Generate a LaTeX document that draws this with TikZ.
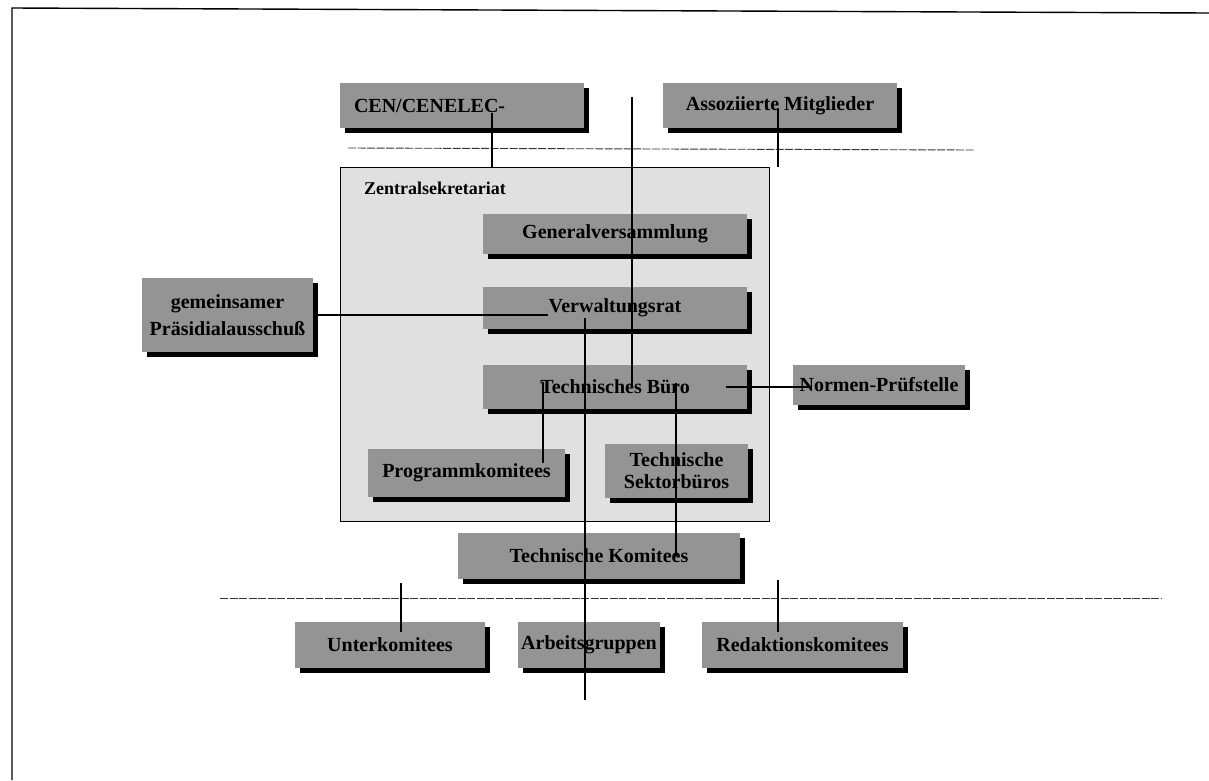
\documentclass[tikz,border=0pt]{standalone}
\usepackage{fontspec}
\setmainfont{Liberation Serif}
\usetikzlibrary{shadows}
\begin{document}
\begin{tikzpicture}[x=1pt,y=-1pt,
  box/.style={fill=black!42, draw=none, font=\bfseries\fontsize{20}{22}\selectfont,
    align=center, inner sep=0pt,
    drop shadow={shadow xshift=5pt, shadow yshift=-5pt, fill=black, opacity=1}},
  conn/.style={line width=1.1pt, black},
  sep/.style={line width=0.9pt, black!80, dash pattern=on 8pt off 1.5pt}]
\useasboundingbox (0,0) rectangle (1209,780);
\draw[line width=1.4pt] (12,780) -- (12,8) -- (1209,13);

% Zentralsekretariat area
\node[draw=black, line width=0.6pt, fill=black!12, minimum width=429pt,
  minimum height=354pt, inner sep=0pt] (zs) at (554.5,344) {};
\node[anchor=west, font=\bfseries\fontsize{18}{20}\selectfont, inner sep=0pt]
  (zslabel) at (364,188) {Zentralsekretariat};

% boxes
\node[box, minimum width=244pt, minimum height=45pt, text width=216pt,
  align=left, inner xsep=14pt] (cen) at (462,105.5) {CEN/CENELEC-};
\node[box, minimum width=234pt, minimum height=45pt] (asso) at (780,105.5) {Assoziierte Mitglieder};
\node[box, minimum width=264pt, minimum height=40pt] (gv) at (615,234) {Generalversammlung};
\node[box, minimum width=264pt, minimum height=42pt] (vr) at (615,308) {Verwaltungsrat};
\node[box, minimum width=171pt, minimum height=74pt] (gem) at (227.5,315)
  {gemeinsamer\\[5pt]Präsidialausschuß};
\node[box, minimum width=264pt, minimum height=44pt] (tb) at (615,387) {Technisches Büro};
\node[box, minimum width=172pt, minimum height=40pt] (np) at (879,385) {Normen-Prüfstelle};
\node[box, minimum width=197pt, minimum height=48pt] (pk) at (466.5,473) {Programmkomitees};
\node[box, minimum width=143pt, minimum height=54pt] (tsb) at (676.5,471)
  {Technische\\Sektorbüros};
\node[box, minimum width=282pt, minimum height=46pt] (tk) at (599,556) {Technische Komitees};
\node[box, minimum width=190pt, minimum height=46pt] (uk) at (390,645) {Unterkomitees};
\node[box, minimum width=142pt, minimum height=46pt] (ag) at (589,645) {Arbeitsgruppen};
\node[box, minimum width=201pt, minimum height=46pt] (rk) at (802.5,645) {Redaktionskomitees};

% separators
\coordinate (sepAl) at (348,148);
\coordinate (sepAr) at (975,150);
\draw[sep] (sepAl) -- (sepAr);
\coordinate (sepBl) at (220,598);
\coordinate (sepBr) at (1162,598);
\draw[sep] (sepBl) -- (sepBr);

% connectors
\coordinate (cenlink) at (492,113);
\draw[conn] (cenlink) -- (cenlink |- zs.north);
\coordinate (mainTop) at (632,97);
\draw[conn] (mainTop) -- (mainTop |- tb.center);
\coordinate (assolink) at (778,108);
\draw[conn] (assolink) -- (assolink |- zs.north);
\coordinate (vrin) at (548,313);
\draw[conn] (gem.east) -- (gem.east -| vrin);
\coordinate (vrdown) at (585,318);
\coordinate (agend) at (585,700);
\draw[conn] (vrdown) -- (agend);
\coordinate (tbpk) at (543,382);
\coordinate (pkin) at (543,463);
\draw[conn] (tbpk) -- (pkin);
\coordinate (tbtk) at (676,383);
\draw[conn] (tbtk) -- (tbtk |- tk.center);
\coordinate (tbnp) at (726,387);
\coordinate (npin) at (810,387);
\draw[conn] (tbnp) -- (npin);
\coordinate (ukTop) at (401,583);
\coordinate (ukin) at (401,632);
\draw[conn] (ukTop) -- (ukin);
\coordinate (rkTop) at (778,580);
\coordinate (rkin) at (778,632);
\draw[conn] (rkTop) -- (rkin);
\end{tikzpicture}
\end{document}
